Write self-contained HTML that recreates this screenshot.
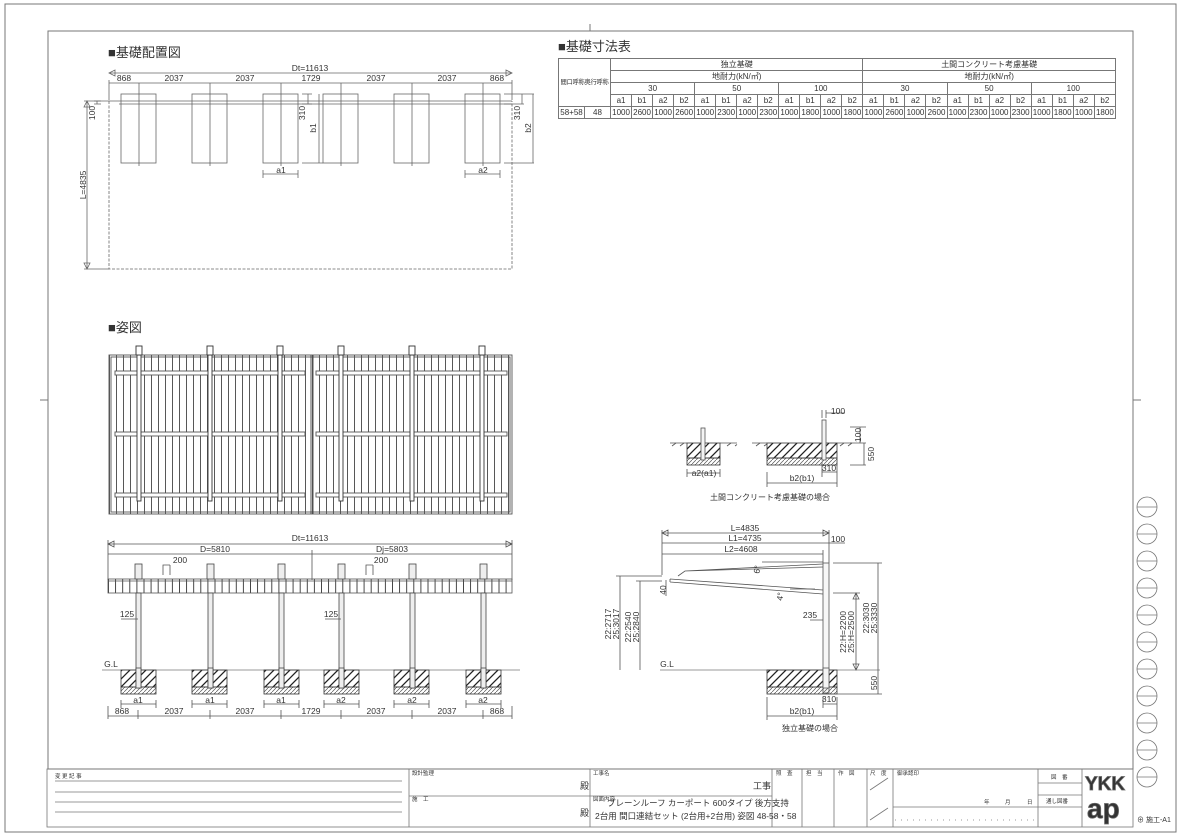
<!DOCTYPE html>
<html><head><meta charset="utf-8">
<style>
html,body{margin:0;padding:0;background:#fff;}
body{width:1181px;height:835px;position:relative;overflow:hidden;font-family:"Liberation Sans","Noto Sans CJK JP",sans-serif;}
svg{position:absolute;left:0;top:0;}
text{font-family:"Liberation Sans","Noto Sans CJK JP",sans-serif;fill:#333;}
table{position:absolute;left:558px;top:58px;width:558px;border-collapse:collapse;table-layout:fixed;font-size:8px;color:#333;}
td{border:1px solid #777;height:11px;padding:0;text-align:center;line-height:10px;white-space:nowrap;overflow:hidden;}
</style></head><body>
<svg width="1181" height="835" viewBox="0 0 1181 835">
<defs>
<pattern id="h" patternUnits="userSpaceOnUse" width="8" height="8"><path d="M-1,9 L9,-1 M-5,5 L5,-5 M3,13 L13,3" stroke="#222" stroke-width="1.3"/></pattern>
<pattern id="hs" patternUnits="userSpaceOnUse" width="4" height="4"><path d="M0,4 L4,0" stroke="#555" stroke-width="0.7"/></pattern>
<pattern id="rib" patternUnits="userSpaceOnUse" x="109" width="7" height="10"><path d="M0.5,0 V10" stroke="#444" stroke-width="0.9"/></pattern>
<pattern id="rib2" patternUnits="userSpaceOnUse" x="108" width="7.1" height="10"><path d="M0.5,0 V10" stroke="#333" stroke-width="0.9"/></pattern>
</defs>
<g fill="none" stroke="#777" stroke-width="1">
<rect x="5" y="4" width="1171" height="828"/>
<rect x="48" y="31" width="1085" height="738"/>
<path d="M590,24 V31 M40,400 H48 M1133,400 H1141"/>
</g>
<g fill="none" stroke="#777" stroke-width="0.8">
<circle cx="1147" cy="507" r="10"/><path d="M1137,507 H1157"/>
<circle cx="1147" cy="534" r="10"/><path d="M1137,534 H1157"/>
<circle cx="1147" cy="561" r="10"/><path d="M1137,561 H1157"/>
<circle cx="1147" cy="588" r="10"/><path d="M1137,588 H1157"/>
<circle cx="1147" cy="615" r="10"/><path d="M1137,615 H1157"/>
<circle cx="1147" cy="642" r="10"/><path d="M1137,642 H1157"/>
<circle cx="1147" cy="669" r="10"/><path d="M1137,669 H1157"/>
<circle cx="1147" cy="696" r="10"/><path d="M1137,696 H1157"/>
<circle cx="1147" cy="723" r="10"/><path d="M1137,723 H1157"/>
<circle cx="1147" cy="750" r="10"/><path d="M1137,750 H1157"/>
<circle cx="1147" cy="777" r="10"/><path d="M1137,777 H1157"/>
</g>

<text x="108" y="57" font-size="13" fill="#222">■基礎配置図</text>
<g stroke="#666" stroke-width="0.8" fill="none">
<path d="M109,73 H512"/>
<path d="M109,73 l6,-3 v6 z M512,73 l-6,-3 v6 z"/>
<path d="M109,83 H512 M109,80 V100 M512,80 V100"/>
<path d="M139,83 V166 M210,83 V166 M281,83 V166 M341,83 V166 M412,83 V166 M483,83 V166"/>
<rect x="121" y="94" width="35" height="69"/><rect x="192" y="94" width="35" height="69"/>
<rect x="263" y="94" width="35" height="69"/><rect x="323" y="94" width="35" height="69"/>
<rect x="394" y="94" width="35" height="69"/><rect x="465" y="94" width="35" height="69"/>
<path d="M109,101 H512 M119,104 H512" />
<path d="M109,101 V269 H512 V101" stroke-dasharray="3,1.5"/>
<path d="M87,101 V269 M84,101 H109 M84,269 H109 M87,101 l-3,6 h6 z M87,269 l-3,-6 h6 z"/>
<path d="M97,101 V104 M94,101 H101 M94,104 H101"/>
<path d="M263,174 H298 M263,170 V178 M298,170 V178 M465,174 H500 M465,170 V178 M500,170 V178"/>
<path d="M302,94 H312 M302,104 H312 M308,94 V104 M302,163 H323 M319,94 V163"/>
<path d="M504,94 H534 M504,104 H524 M522,94 V104 M504,163 H534 M533,94 V163"/>
</g>
<g font-size="8.5" text-anchor="middle">
<text x="310" y="71">Dt=11613</text>
<text x="124" y="81">868</text><text x="174" y="81">2037</text><text x="245" y="81">2037</text>
<text x="311" y="81">1729</text><text x="376" y="81">2037</text><text x="447" y="81">2037</text><text x="497" y="81">868</text>
<text x="281" y="173">a1</text><text x="483" y="173">a2</text>
<text transform="translate(86,185) rotate(-90)">L=4835</text>
<text transform="translate(95,113) rotate(-90)">100</text>
<text transform="translate(305,113) rotate(-90)">310</text>
<text transform="translate(316,128) rotate(-90)">b1</text>
<text transform="translate(520,113) rotate(-90)">310</text>
<text transform="translate(531,128) rotate(-90)">b2</text>
</g>

<text x="558" y="51" font-size="13" fill="#222">■基礎寸法表</text>

<text x="108" y="332" font-size="13" fill="#222">■姿図</text>
<g stroke="#555" stroke-width="0.9" fill="none">
<rect x="109" y="355" width="403" height="159" fill="url(#rib)"/>
<rect x="111" y="357" width="399" height="155"/>
<path d="M311,355 V514 M313,355 V514" stroke="#444"/>
<g fill="#fff">
<rect x="115" y="371" width="190" height="4"/><rect x="115" y="432" width="190" height="4"/><rect x="115" y="493" width="190" height="4"/>
<rect x="316" y="371" width="191" height="4"/><rect x="316" y="432" width="191" height="4"/><rect x="316" y="493" width="191" height="4"/>
</g>
<g fill="#fff" stroke="#333">
<rect x="137" y="355" width="4" height="146"/><rect x="208" y="355" width="4" height="146"/><rect x="278" y="355" width="4" height="146"/>
<rect x="339" y="355" width="4" height="146"/><rect x="410" y="355" width="4" height="146"/><rect x="480" y="355" width="4" height="146"/>
<rect x="136" y="346" width="6" height="9"/><rect x="207" y="346" width="6" height="9"/><rect x="277" y="346" width="6" height="9"/>
<rect x="338" y="346" width="6" height="9"/><rect x="409" y="346" width="6" height="9"/><rect x="479" y="346" width="6" height="9"/>
</g>
</g>

<g stroke="#555" stroke-width="0.8" fill="none">
<path d="M108,544 H512 M108,544 l6,-3 v6 z M512,544 l-6,-3 v6 z M108,540 V580 M512,540 V580"/>
<path d="M108,554 H512 M312,550 V580"/>
<rect x="108" y="579" width="404" height="14" fill="url(#rib2)"/>
<path d="M108,581 H512"/>
<path d="M163,575 V565 H170 M170,565 V575 M366,575 V565 H373 M373,565 V575"/>
<path d="M102,670 H520" stroke="#777"/>
<g stroke="#444" fill="#eee">
<rect x="136" y="593" width="5" height="95"/><rect x="208" y="593" width="5" height="95"/><rect x="279" y="593" width="5" height="95"/>
<rect x="339" y="593" width="5" height="95"/><rect x="410" y="593" width="5" height="95"/><rect x="481" y="593" width="5" height="95"/>
<rect x="135" y="564" width="7" height="15"/><rect x="207" y="564" width="7" height="15"/><rect x="278" y="564" width="7" height="15"/>
<rect x="338" y="564" width="7" height="15"/><rect x="409" y="564" width="7" height="15"/><rect x="480" y="564" width="7" height="15"/>
</g>
<g stroke="#333">
<rect x="121" y="670" width="35" height="17" fill="url(#h)"/><rect x="121" y="687" width="35" height="7" fill="url(#hs)"/>
<rect x="192" y="670" width="35" height="17" fill="url(#h)"/><rect x="192" y="687" width="35" height="7" fill="url(#hs)"/>
<rect x="264" y="670" width="35" height="17" fill="url(#h)"/><rect x="264" y="687" width="35" height="7" fill="url(#hs)"/>
<rect x="324" y="670" width="35" height="17" fill="url(#h)"/><rect x="324" y="687" width="35" height="7" fill="url(#hs)"/>
<rect x="394" y="670" width="35" height="17" fill="url(#h)"/><rect x="394" y="687" width="35" height="7" fill="url(#hs)"/>
<rect x="466" y="670" width="35" height="17" fill="url(#h)"/><rect x="466" y="687" width="35" height="7" fill="url(#hs)"/>
</g>
<g stroke="#444" fill="#eee">
<rect x="136" y="668" width="5" height="20"/><rect x="208" y="668" width="5" height="20"/><rect x="279" y="668" width="5" height="20"/>
<rect x="339" y="668" width="5" height="20"/><rect x="410" y="668" width="5" height="20"/><rect x="481" y="668" width="5" height="20"/>
</g>
<path d="M121,704 H156 M192,704 H227 M264,704 H299 M324,704 H359 M394,704 H429 M466,704 H501"/>
<path d="M121,700 V708 M156,700 V708 M192,700 V708 M227,700 V708 M264,700 V708 M299,700 V708 M324,700 V708 M359,700 V708 M394,700 V708 M429,700 V708 M466,700 V708 M501,700 V708"/>
<path d="M108,716 H512 M108,706 V719 M512,706 V719 M138,710 V719 M210,710 V719 M281,710 V719 M341,710 V719 M412,710 V719 M483,710 V719"/>
<path d="M121,619 H138 M325,619 H341"/>
</g>
<g font-size="8.5" text-anchor="middle">
<text x="310" y="541">Dt=11613</text>
<text x="215" y="552">D=5810</text><text x="392" y="552">Dj=5803</text>
<text x="180" y="563">200</text><text x="381" y="563">200</text>
<text x="127" y="617">125</text><text x="331" y="617">125</text>
<text x="111" y="667">G.L</text>
<text x="138" y="703">a1</text><text x="210" y="703">a1</text><text x="281" y="703">a1</text>
<text x="341" y="703">a2</text><text x="412" y="703">a2</text><text x="483" y="703">a2</text>
<text x="122" y="714">868</text><text x="174" y="714">2037</text><text x="245" y="714">2037</text>
<text x="311" y="714">1729</text><text x="376" y="714">2037</text><text x="447" y="714">2037</text><text x="497" y="714">868</text>
</g>

<g stroke="#555" stroke-width="0.8" fill="none">
<path d="M670,443 H687 M720,443 H737 M752,443 H767 M837,443 H852"/>
<path d="M672,446 l4,-3 M680,446 l4,-3 M727,446 l4,-3 M735,446 l2,-1.5 M756,446 l4,-3 M764,446 l3,-2 M840,446 l4,-3 M848,446 l4,-3"/>
<rect x="687" y="443" width="33" height="15" fill="url(#h)" stroke="#333"/><rect x="687" y="458" width="33" height="7" fill="url(#hs)" stroke="#333"/>
<rect x="767" y="443" width="70" height="15" fill="url(#h)" stroke="#333"/><rect x="767" y="458" width="70" height="7" fill="url(#hs)" stroke="#333"/>
<rect x="701" y="428" width="4" height="32" fill="#f4f4f4"/><rect x="822" y="420" width="4" height="40" fill="#f4f4f4"/>
<path d="M687,473 H720 M687,469 V477 M720,469 V477"/>
<path d="M767,472 V487 M837,462 V487 M822,462 V477 M822,472 H837 M767,483 H837"/>
<path d="M822,418 V410 M826,418 V410 M826,413 H845"/>
<path d="M850,427 H866 M850,443 H866 M850,465 H866 M860,427 V443 M864,443 V465"/>
</g>
<g font-size="8.5" text-anchor="middle">
<text x="704" y="476">a2(a1)</text>
<text x="829" y="471">310</text><text x="802" y="481">b2(b1)</text>
<text x="838" y="414">100</text>
<text transform="translate(861,435) rotate(-90)">100</text>
<text transform="translate(874,454) rotate(-90)">550</text>
<text x="770" y="500" font-size="8">土間コンクリート考慮基礎の場合</text>
</g>

<g stroke="#555" stroke-width="0.8" fill="none">
<path d="M662,533 H829 M662,533 l6,-3 v6 z M829,533 l-6,-3 v6 z"/>
<path d="M662,543 H829 M662,554 H823 M662,530 V575 M823,550 V563 M829,530 V563 M829,543 H845"/>
<rect x="823" y="563" width="6" height="130" fill="#f7f7f7"/>
<path d="M670,579 L823,590 M670,582 L823,594 M670,579 V582"/>
<path d="M678,576 L685,571 L823,564 M685,571 L823,567"/>
<path d="M762,562 H823 M790,589 H815"/>
<path d="M660,670 H880" stroke="#777"/>
<rect x="767" y="670" width="70" height="17" fill="url(#h)" stroke="#333"/><rect x="767" y="687" width="70" height="7" fill="url(#hs)" stroke="#333"/>
<rect x="823" y="668" width="6" height="20" fill="#f4f4f4"/>
<path d="M620,576 V670 M616,576 H662 M640,581 V670 M636,581 H662"/>
<path d="M856,593 V670 M856,593 l-3,6 h6 z M856,670 l-3,-6 h6 z M833,593 H860"/>
<path d="M878,563 V694 M833,563 H882 M837,694 H882"/>
<path d="M666,580 V596 M810,620 H823"/>
<path d="M823,697 V708 M837,697 V720 M823,704 H837 M767,697 V720 M767,716 H837"/>
</g>
<g font-size="8.5" text-anchor="middle">
<text x="745" y="531">L=4835</text><text x="745" y="541">L1=4735</text><text x="741" y="552">L2=4608</text>
<text x="838" y="542">100</text>
<text x="760" y="570" transform="rotate(-80 760 570)">6°</text>
<text x="783" y="597" transform="rotate(-80 783 597)">4°</text>
<text transform="translate(666,590) rotate(-90)">40</text>
<text x="810" y="618">235</text>
<text x="667" y="667">G.L</text>
<text transform="translate(611,624) rotate(-90)">22:2717</text>
<text transform="translate(619,624) rotate(-90)">25:3017</text>
<text transform="translate(631,627) rotate(-90)">22:2540</text>
<text transform="translate(639,627) rotate(-90)">25:2840</text>
<text transform="translate(846,632) rotate(-90)">22:H=2200</text>
<text transform="translate(854,632) rotate(-90)">25:H=2500</text>
<text transform="translate(869,618) rotate(-90)">22:3030</text>
<text transform="translate(877,618) rotate(-90)">25:3330</text>
<text transform="translate(877,683) rotate(-90)">550</text>
<text x="829" y="702">310</text><text x="802" y="714">b2(b1)</text>
<text x="810" y="731" font-size="8">独立基礎の場合</text>
</g>

<g stroke="#777" stroke-width="0.8" fill="none">
<rect x="47" y="769" width="1086" height="58"/>
<path d="M55,781 H402 M55,792 H402 M55,802 H402 M55,812 H402"/>
<path d="M409,769 V827 M590,769 V827 M409,796 H590 M590,796 H772"/>
<path d="M772,769 V827 M802,769 V827 M834,769 V827 M867,769 V827 M893,769 V827 M1038,769 V827 M1082,769 V827"/>
<path d="M893,807 H1038 M1038,783 H1082 M1038,795 H1082 M1038,807 H1082"/>
<path d="M870,790 L888,778 M870,820 L888,808"/>
<path d="M895,820 H1036" stroke-dasharray="1,5"/>
</g>
<g font-size="5.5" fill="#444">
<text x="55" y="778">変 更 記 事</text>
<text x="412" y="775">設計監理</text><text x="412" y="801">施　工</text>
<text x="593" y="775">工事名</text><text x="593" y="801">図面内容</text>
<text x="776" y="775">照　査</text><text x="806" y="775">担　当</text><text x="838" y="775">作　図</text><text x="870" y="775">尺　度</text>
<text x="897" y="775">御承認印</text>
<text x="1051" y="779">図　番</text><text x="1046" y="803">通し図番</text>
<text x="984" y="804">年</text><text x="1005" y="804">月</text><text x="1027" y="804">日</text>
</g>
<g font-size="9" fill="#222">
<text x="580" y="789">殿</text><text x="580" y="816">殿</text>
<text x="753" y="789">工事</text>
<text x="607" y="806" font-size="8.5">プレーンルーフ カーポート 600タイプ 後方支持</text>
<text x="595" y="819" font-size="8.5">2台用 間口連結セット (2台用+2台用)  姿図 48-58・58</text>
</g>
<text x="1085" y="790" font-size="19" fill="#fff" stroke="#666" stroke-width="0.8" font-weight="bold">YKK</text>
<text x="1087" y="818" font-size="28" fill="#fff" stroke="#666" stroke-width="0.8" font-weight="bold">ap</text>
<text x="1137" y="822" font-size="7" fill="#333">⊕ 施工-A1</text>
</svg>

<table>
<colgroup><col style="width:26px"><col style="width:26px">
<col><col><col><col><col><col><col><col><col><col><col><col>
<col><col><col><col><col><col><col><col><col><col><col><col></colgroup>
<tr><td rowspan="4" colspan="2" style="font-size:6.3px;letter-spacing:-0.3px">間口呼称奥行呼称</td><td colspan="12">独立基礎</td><td colspan="12">土間コンクリート考慮基礎</td></tr>
<tr><td colspan="12">地耐力(kN/㎡)</td><td colspan="12">地耐力(kN/㎡)</td></tr>
<tr><td colspan="4">30</td><td colspan="4">50</td><td colspan="4">100</td><td colspan="4">30</td><td colspan="4">50</td><td colspan="4">100</td></tr>
<tr><td>a1</td><td>b1</td><td>a2</td><td>b2</td><td>a1</td><td>b1</td><td>a2</td><td>b2</td><td>a1</td><td>b1</td><td>a2</td><td>b2</td><td>a1</td><td>b1</td><td>a2</td><td>b2</td><td>a1</td><td>b1</td><td>a2</td><td>b2</td><td>a1</td><td>b1</td><td>a2</td><td>b2</td></tr>
<tr><td>58+58</td><td>48</td><td>1000</td><td>2600</td><td>1000</td><td>2600</td><td>1000</td><td>2300</td><td>1000</td><td>2300</td><td>1000</td><td>1800</td><td>1000</td><td>1800</td><td>1000</td><td>2600</td><td>1000</td><td>2600</td><td>1000</td><td>2300</td><td>1000</td><td>2300</td><td>1000</td><td>1800</td><td>1000</td><td>1800</td></tr>
</table>
</body></html>
